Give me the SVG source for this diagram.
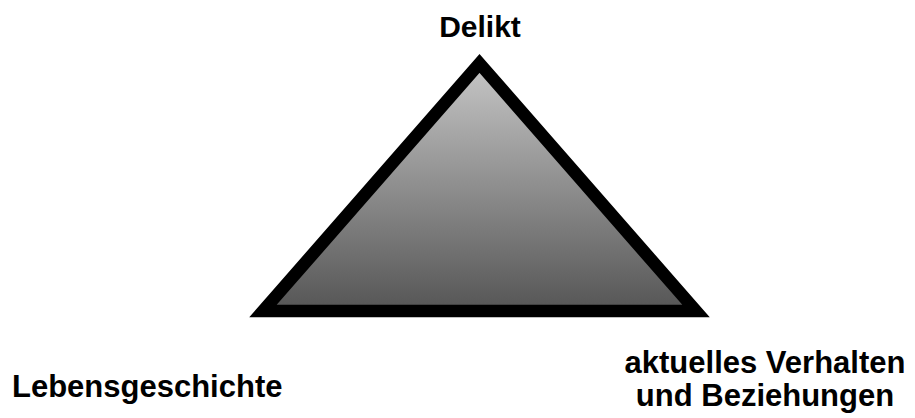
<svg xmlns="http://www.w3.org/2000/svg" width="915" height="418" viewBox="0 0 915 418">
  <style>
    .lbl { font-family: "Liberation Sans", Arial, sans-serif; font-weight: bold; font-size: 31px; fill: #000; }
    .tri { stroke: #000; stroke-width: 12.5; stroke-linejoin: miter; fill: url(#g); }
  </style>
  <defs>
    <linearGradient id="g" gradientUnits="userSpaceOnUse" x1="0" y1="73" x2="0" y2="305">
      <stop offset="0" stop-color="#c2c2c2"/>
      <stop offset="1" stop-color="#585858"/>
    </linearGradient>
  </defs>
  <rect width="915" height="418" fill="#fff"/>
  <g id="triangle">
    <polygon class="tri" points="263,311 696,311 479.5,63.5"/>
  </g>
  <g id="delikt">
    <text class="lbl" x="480" y="37" text-anchor="middle" style="font-size:30px">Delikt</text>
  </g>
  <g id="lebensgeschichte">
    <text class="lbl" x="12" y="397">Lebensgeschichte</text>
  </g>
  <g id="verhalten">
    <text class="lbl" x="765" y="373" text-anchor="middle">aktuelles Verhalten</text>
    <text class="lbl" x="765" y="406" text-anchor="middle">und Beziehungen</text>
  </g>
  <g id="connectors"/>
</svg>
